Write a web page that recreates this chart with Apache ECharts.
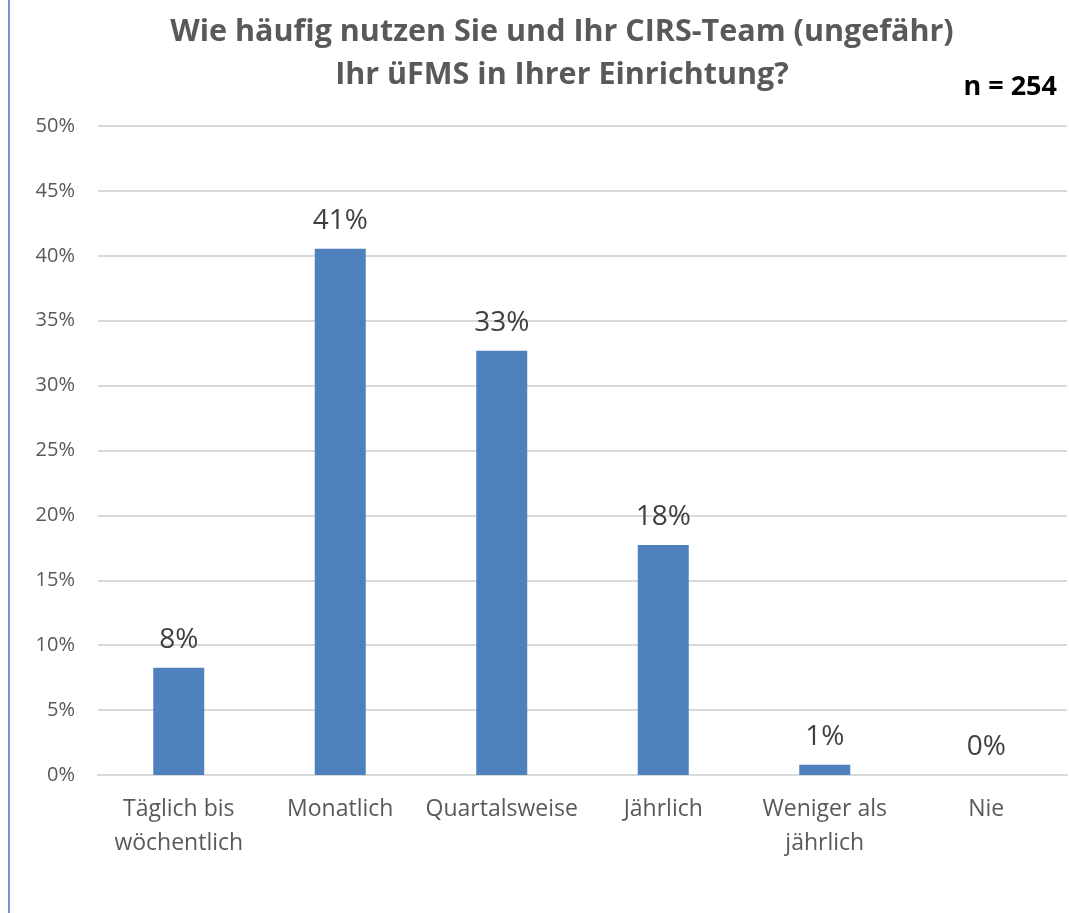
<!DOCTYPE html>
<html>
<head>
<meta charset="utf-8">
<script src="https://cdn.jsdelivr.net/npm/echarts@6/dist/echarts.min.js"></script>
<style>
  html, body { margin: 0; padding: 0; background: #fff; }
  #chart { width: 1069px; height: 913px; }
</style>
</head>
<body>
<div id="chart"></div>
<script>
// Kategorien und Anteile (in %), n = 254
var categories = ['Täglich bis\nwöchentlich', 'Monatlich', 'Quartalsweise', 'Jährlich', 'Weniger als\njährlich', 'Nie'];
var shares = [8.27, 40.55, 32.68, 17.72, 0.79, 0];
var yTicks = { min: 0, max: 50, step: 5 };
var sampleLabel = 'n = 254';

var chart = echarts.init(document.getElementById('chart'));

var option = {
    animation: false,
    title: {
        text: 'Wie häufig nutzen Sie und Ihr CIRS-Team (ungefähr)\nIhr üFMS in Ihrer Einrichtung?',
        left: 557,
        textAlign: 'center',
        top: 6,
        textStyle: {
            color: '#595959',
            fontFamily: '"Open Sans"',
            fontWeight: 'bold',
            fontSize: 30.5,
            lineHeight: 43
        }
    },
    graphic: [
        {
            type: 'text',
            right: 12,
            top: 74,
            style: {
                text: sampleLabel,
                fill: '#000',
                font: 'bold 27px "Open Sans"'
            }
        },
        {
            type: 'rect',
            left: 8,
            top: 0,
            shape: { width: 2, height: 913 },
            style: { fill: '#7094d4' }
        }
    ],
    grid: {
        left: 98,
        right: 2,
        top: 126,
        bottom: 138
    },
    xAxis: {
        type: 'category',
        data: categories,
        axisLine: { lineStyle: { color: '#d9d9d9', width: 2 } },
        axisTick: { show: false },
        axisLabel: {
            color: '#595959',
            fontSize: 23,
            fontFamily: 'Open Sans',
            lineHeight: 34,
            margin: 17,
            interval: 0
        }
    },
    yAxis: {
        type: 'value',
        min: yTicks.min,
        max: yTicks.max,
        interval: yTicks.step,
        axisLine: { show: false },
        axisTick: { show: false },
        splitLine: { lineStyle: { color: '#d9d9d9', width: 2 } },
        axisLabel: {
            color: '#595959',
            fontSize: 20,
            fontFamily: 'Open Sans',
            margin: 23,
            formatter: '{value}%'
        }
    },
    series: [
        {
            type: 'bar',
            data: shares,
            barWidth: 51,
            itemStyle: { color: '#4f81bd' },
            label: {
                show: true,
                position: 'top',
                distance: 14,
                color: '#404040',
                fontSize: 28,
                fontFamily: 'Open Sans',
                formatter: function (p) {
                    return Math.round(p.value) + '%';
                }
            }
        }
    ]
};

chart.setOption(option);
</script>
</body>
</html>
